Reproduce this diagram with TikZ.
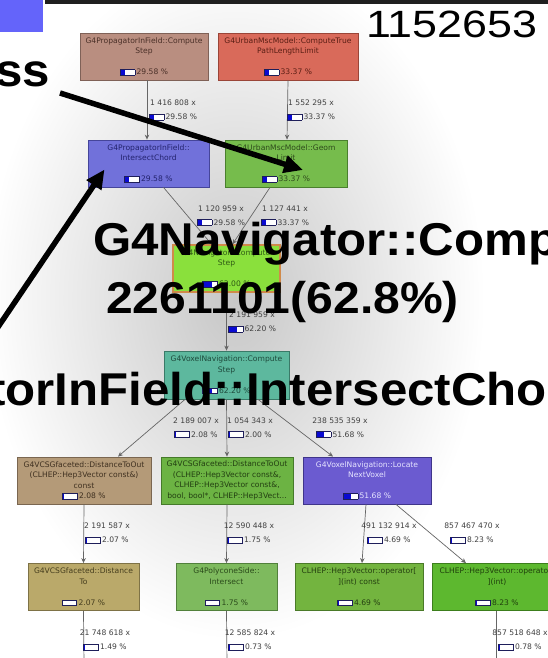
\documentclass[tikz,border=0pt]{standalone}
\usepackage{fontspec}
\usepackage{graphicx}
\setmainfont{Liberation Sans}
\newfontfamily\dvs{DejaVu Sans}
\usetikzlibrary{arrows.meta}

% profile colours
\definecolor{barrim}{HTML}{1E1E5A}
\definecolor{barfill}{HTML}{0A0AD2}
\definecolor{edgeline}{HTML}{666666}
\definecolor{edgetext}{HTML}{404040}
\definecolor{cBrown}{HTML}{B98E80}\definecolor{dBrown}{HTML}{7F6157}\definecolor{tBrown}{HTML}{4A3028}
\definecolor{cRed}{HTML}{D96A5A}\definecolor{dRed}{HTML}{9A4538}\definecolor{tRed}{HTML}{5A1E14}
\definecolor{cPurp}{HTML}{7171DA}\definecolor{dPurp}{HTML}{45459A}\definecolor{tPurp}{HTML}{23236E}
\definecolor{cGeom}{HTML}{76BC4C}\definecolor{dGeom}{HTML}{4A7F2E}\definecolor{tGeom}{HTML}{2E4A1C}
\definecolor{cNav}{HTML}{8AE03C}\definecolor{dNav}{HTML}{D08A4A}\definecolor{tNav}{HTML}{2F5A14}
\definecolor{cTeal}{HTML}{5DB89E}\definecolor{dTeal}{HTML}{3A7A68}\definecolor{tTeal}{HTML}{1E4A3C}
\definecolor{cTan}{HTML}{B49A78}\definecolor{dTan}{HTML}{7A6650}\definecolor{tTan}{HTML}{3F3020}
\definecolor{cGrn}{HTML}{6CB343}\definecolor{dGrn}{HTML}{457A2A}\definecolor{tGrn}{HTML}{233F12}
\definecolor{cLoc}{HTML}{6B5BD0}\definecolor{dLoc}{HTML}{3F358A}\definecolor{tLoc}{HTML}{E6E4FF}
\definecolor{cOliv}{HTML}{BAA96A}\definecolor{dOliv}{HTML}{7E7246}\definecolor{tOliv}{HTML}{463E1E}
\definecolor{cPoly}{HTML}{7EBA5E}\definecolor{dPoly}{HTML}{51803B}\definecolor{tPoly}{HTML}{2A4A1A}
\definecolor{cOpA}{HTML}{73B43F}\definecolor{dOpA}{HTML}{4A7A28}\definecolor{tOpA}{HTML}{243F10}
\definecolor{cOpB}{HTML}{5DB82F}\definecolor{dOpB}{HTML}{3C7E1C}\definecolor{tOpB}{HTML}{1F400C}
\definecolor{slidebox}{HTML}{6464FA}

% small percentage bar followed by the value
\newcommand\pbar[1]{{\setlength\fboxsep{0pt}\setlength\fboxrule{0.6pt}%
  \fcolorbox{barrim}{white}{\makebox[14pt][l]{\textcolor{barfill}{\rule{\dimexpr #1pt*14/100\relax}{5pt}}}}}}
\newcommand\pct[1]{\pbar{#1}\hspace{1.5pt}#1~\%}
\newcommand\nodetxt{\dvs\fontsize{7.6}{10.5}\selectfont}

\tikzset{
  fn/.style={draw, line width=0.8pt, inner sep=0pt, minimum height=47pt, align=center, font=\nodetxt},
  elab/.style={align=center, inner sep=0pt, font=\nodetxt, text=edgetext},
  call/.style={draw=edgeline, line width=0.7pt, -{Stealth[length=5pt,width=4.5pt]}},
  pointer/.style={line width=5.5pt, black, -{Triangle[length=19pt,width=17pt]}},
  bigtxt/.style={anchor=base west, inner sep=0pt, font=\bfseries\fontsize{46}{50}\selectfont},
}

\begin{document}
\begin{tikzpicture}[x=1pt,y=-1pt]
\path[use as bounding box] (0,0) rectangle (548,658);
\clip (0,0) rectangle (548,658);
\fill[white] (0,0) rectangle (548,658);
\shade[inner color=black!22, outer color=white] (235,300) ellipse [x radius=250, y radius=340];

% call-graph nodes
\node[fn, fill=cBrown, draw=dBrown, text=tBrown, minimum width=128pt] (cstep) at (144,56.5)
  {G4PropagatorInField::Compute\\Step\\\mbox{}\\\pct{29.58}};
\node[fn, fill=cRed, draw=dRed, text=tRed, minimum width=140pt] (plen) at (288,56.5)
  {G4UrbanMscModel::ComputeTrue\\PathLengthLimit\\\mbox{}\\\pct{33.37}};
\node[fn, fill=cPurp, draw=dPurp, text=tPurp, minimum width=121pt] (chord) at (148.5,163.5)
  {G4PropagatorInField::\\IntersectChord\\\mbox{}\\\pct{29.58}};
\node[fn, fill=cGeom, draw=dGeom, text=tGeom, minimum width=122pt] (geom) at (286,163.5)
  {G4UrbanMscModel::Geom\\Limit\\\mbox{}\\\pct{33.37}};
\node[fn, fill=cNav, draw=dNav, text=tNav, line width=1.5pt, minimum width=107pt] (nav) at (226.5,268.5)
  {G4Navigator::Compute\\Step\\\mbox{}\\\pct{63.00}};
\node[fn, fill=cTeal, draw=dTeal, text=tTeal, minimum width=125pt, minimum height=48pt] (vox) at (226.5,375)
  {G4VoxelNavigation::Compute\\Step\\\mbox{}\\\pct{62.20}};
\node[fn, fill=cTan, draw=dTan, text=tTan, minimum width=134pt] (dout) at (84,480.5)
  {G4VCSGfaceted::DistanceToOut\\(CLHEP::Hep3Vector const\&)\\const\\\pct{2.08}};
\node[fn, fill=cGrn, draw=dGrn, text=tGrn, minimum width=132pt] (doutb) at (227,480.5)
  {G4VCSGfaceted::DistanceToOut\\(CLHEP::Hep3Vector const\&,\\CLHEP::Hep3Vector const\&,\\bool, bool*, CLHEP::Hep3Vect...};
\node[fn, fill=cLoc, draw=dLoc, text=tLoc, minimum width=128pt] (loc) at (367,480.5)
  {G4VoxelNavigation::Locate\\NextVoxel\\\mbox{}\\\pct{51.68}};
\node[fn, fill=cOliv, draw=dOliv, text=tOliv, minimum width=111pt] (dto) at (83.5,587)
  {G4VCSGfaceted::Distance\\To\\\mbox{}\\\pct{2.07}};
\node[fn, fill=cPoly, draw=dPoly, text=tPoly, minimum width=101pt] (poly) at (226.5,587)
  {G4PolyconeSide::\\Intersect\\\mbox{}\\\pct{1.75}};
\node[fn, fill=cOpA, draw=dOpA, text=tOpA, minimum width=128pt] (opa) at (359,587)
  {CLHEP::Hep3Vector::operator[\\](int) const\\\mbox{}\\\pct{4.69}};
\node[fn, fill=cOpB, draw=dOpB, text=tOpB, minimum width=130pt] (opb) at (497,587)
  {CLHEP::Hep3Vector::operator[\\](int)\\\mbox{}\\\pct{8.23}};

% calls leaving the bottom of the picture
\coordinate (outa) at (84,665);
\coordinate (outb) at (227,665);
\coordinate (outc) at (496,665);

% call edges
\draw[call] ([xshift=3pt]cstep.south) -- ([xshift=-1.5pt]chord.north);
\draw[call] (plen.south) -- ([xshift=1pt]geom.north);
\draw[call] ([xshift=15pt]chord.south) -- ([xshift=-15pt]nav.north);
\draw[call] ([xshift=-16pt]geom.south) -- ([xshift=6pt]nav.north);
\draw[call] (nav.south) -- (vox.north);
\draw[call] ([xshift=-41.5pt]vox.south) -- ([xshift=34pt]dout.north);
\draw[call] (vox.south) -- (doutb.north);
\draw[call] ([xshift=31.5pt]vox.south) -- ([xshift=-34pt]loc.north);
\draw[call] (dout.south) -- (dto.north);
\draw[call] (doutb.south) -- (poly.north);
\draw[call] ([xshift=-1pt]loc.south) -- ([xshift=3pt]opa.north);
\draw[call] ([xshift=29pt]loc.south) -- ([xshift=-31pt]opb.north);
\draw[edgeline, line width=0.7pt] (dto.south) -- (outa);
\draw[edgeline, line width=0.7pt] (poly.south) -- (outb);
\draw[edgeline, line width=0.7pt] ([xshift=-1pt]opb.south) -- (outc);

% call counts
\node[elab] (l1) at (173,110) {1 416 808 x\\[3.5pt]\pct{29.58}};
\node[elab] (l2) at (311,110) {1 552 295 x\\[3.5pt]\pct{33.37}};
\node[elab] (l3) at (221,215.5) {1 120 959 x\\[3.5pt]\pct{29.58}};
\node[elab] (l4) at (285,215.5) {1 127 441 x\\[3.5pt]\pct{33.37}};
\node[elab] (l5) at (252,322) {2 191 959 x\\[3.5pt]\pct{62.20}};
\node[elab] (l6) at (196,427.5) {2 189 007 x\\[3.5pt]\pct{2.08}};
\node[elab] (l7) at (250,427.5) {1 054 343 x\\[3.5pt]\pct{2.00}};
\node[elab] (l8) at (340,427.5) {238 535 359 x\\[3.5pt]\pct{51.68}};
\node[elab] (l9) at (107,533) {2 191 587 x\\[3.5pt]\pct{2.07}};
\node[elab] (l10) at (249,533) {12 590 448 x\\[3.5pt]\pct{1.75}};
\node[elab] (l11) at (389,533) {491 132 914 x\\[3.5pt]\pct{4.69}};
\node[elab] (l12) at (472,533) {857 467 470 x\\[3.5pt]\pct{8.23}};
\node[elab] (l13) at (105,640) {21 748 618 x\\[3.5pt]\pct{1.49}};
\node[elab] (l14) at (250,640) {12 585 824 x\\[3.5pt]\pct{0.73}};
\node[elab] (l15) at (520,640) {857 518 648 x\\[3.5pt]\pct{0.78}};

% slide overlay: heading bits, callouts and pointers
\fill[slidebox] (0,0) rectangle (43,32);
\fill[black!88] (45,0) rectangle (548,4);
\node[anchor=base west, inner sep=0pt, font=\fontsize{38}{42}\selectfont] (num) at (366,37.5)
  {\scalebox{1.18}[1]{1152653}};
\node[bigtxt] (ss) at (-5,87) {\scalebox{1.07}[1]{ss}};
\node[bigtxt] (navtxt) at (93,255) {\scalebox{1.07}[1]{G4Navigator::Comp}};
\node[bigtxt, font=\bfseries\fontsize{44.5}{48}\selectfont] (navcnt) at (106,313) {\scalebox{1.08}[1]{2261101(62.8\%)}};
\node[bigtxt] (chordtxt) at (-11,405) {\scalebox{1.07}[1]{torInField::IntersectChor}};

\coordinate (p1s) at (60,93);
\coordinate (p2s) at (-6,333);
\draw[pointer] (p1s) -- ([shift={(17,6.5)}]geom.center);
\draw[pointer] (p2s) -- ([shift={(-44,6)}]chord.center);
\end{tikzpicture}
\end{document}
